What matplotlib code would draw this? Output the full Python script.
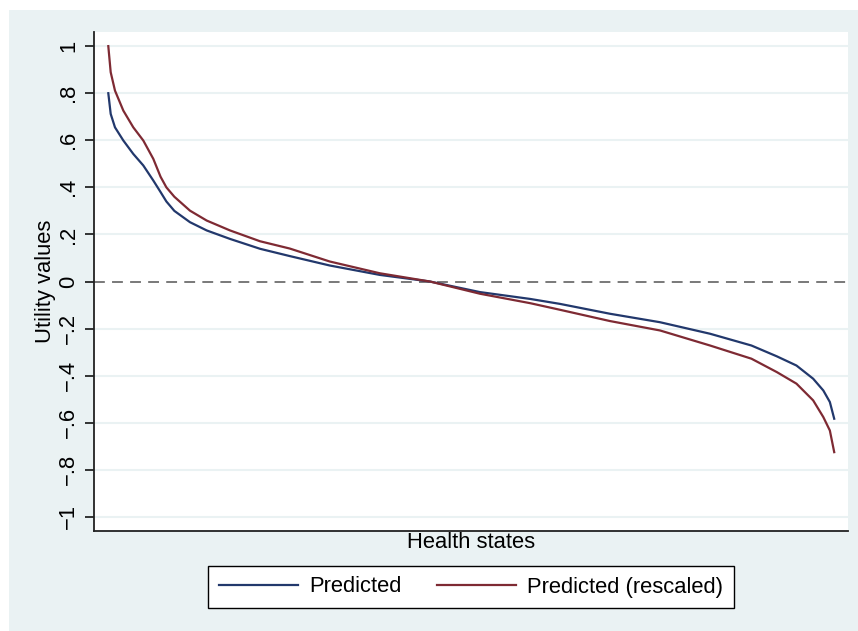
import numpy as np
import matplotlib
matplotlib.use("Agg")
import matplotlib.pyplot as plt
from matplotlib.patches import Rectangle
from matplotlib import rcParams

rcParams['font.family'] = ['Liberation Sans', 'DejaVu Sans']

# health states ranked by predicted utility (percent of states)
rank = [0, 0.33, 0.92, 2.07, 3.44, 4.82, 6.2, 7.2, 8.0, 9.1, 11.25, 13.55, 16.76,
        20.9, 25.0, 30.5, 37.4, 44.3, 51.2, 58.1, 62.2, 69.1, 76.0, 82.9, 88.6,
        92.1, 94.8, 97.1, 98.5, 99.4, 100]

# predicted utility values
predicted = [0.80, 0.712, 0.655, 0.599, 0.542, 0.493, 0.429, 0.38, 0.34, 0.30,
             0.252, 0.217, 0.181, 0.139, 0.108, 0.068, 0.028, 0.0, -0.045, -0.074,
             -0.095, -0.137, -0.173, -0.222, -0.272, -0.318, -0.357, -0.413,
             -0.463, -0.512, -0.583]

# rescaled predictions
rescaled = [1.0, 0.889, 0.811, 0.726, 0.655, 0.599, 0.521, 0.445, 0.40, 0.36,
            0.301, 0.259, 0.217, 0.171, 0.140, 0.085, 0.035, 0.0, -0.052, -0.092,
            -0.120, -0.168, -0.208, -0.272, -0.328, -0.385, -0.434, -0.505,
            -0.576, -0.633, -0.725]

yticks = [-1, -0.8, -0.6, -0.4, -0.2, 0, 0.2, 0.4, 0.6, 0.8, 1]
yticklabels = ['\u22121', '\u2212.8', '\u2212.6', '\u2212.4', '\u2212.2', '0',
               '.2', '.4', '.6', '.8', '1']

W, H = 858, 631
fs = 15.8
fig = plt.figure(figsize=(W / 100, H / 100), dpi=100, facecolor='white')

# Stata-like graph region
fig.patches.append(Rectangle((9 / W, 0), 1 - 9 / W, 1 - 10 / H,
                             transform=fig.transFigure, facecolor='#EAF2F3',
                             edgecolor='none', zorder=-10))

ax = fig.add_axes([94 / W, 1 - 531 / H, 754 / W, 499 / H])
ax.set_facecolor('white')

ax.plot(rank, predicted, color='#22386c', lw=1.6, label='Predicted', zorder=3)
ax.plot(rank, rescaled, color='#7e2a33', lw=1.6, label='Predicted (rescaled)', zorder=3)
ax.axhline(0, color='#6e6e6e', lw=1.3, ls=(0, (6, 4)), zorder=2)

ax.set_xlim(-1.97, 101.9)
ax.set_ylim(-1.06, 1.06)
ax.set_yticks(yticks)
ax.set_yticklabels(yticklabels, rotation=90, va='center', fontsize=fs)
ax.set_xticks([])
for y in yticks:
    if y != 0:
        ax.axhline(y, color='#EAF2F3', lw=1.5, zorder=1)

ax.tick_params(axis='y', direction='out', length=6.5, width=1.1, pad=4, colors='black')
for s in ['top', 'right']:
    ax.spines[s].set_visible(False)
for s in ['left', 'bottom']:
    ax.spines[s].set_color('#222222')
    ax.spines[s].set_linewidth(1.3)

fig.text(45 / W, 1 - 281 / H, 'Utility values', rotation=90, ha='center',
         va='center', fontsize=fs)
fig.text(471 / W, 1 - 532 / H, 'Health states', ha='center', va='top', fontsize=fs)

leg = fig.legend(loc='center', bbox_to_anchor=(471 / W, 1 - 587 / H), ncol=2,
                 fontsize=fs, frameon=True, fancybox=False, handlelength=3.6,
                 handletextpad=0.5, columnspacing=1.6, borderpad=0.5)
leg.get_frame().set_edgecolor('black')
leg.get_frame().set_linewidth(1.0)
leg.get_frame().set_facecolor('white')
leg.get_frame().set_alpha(1)

fig.savefig('out.png', dpi=100, facecolor=fig.get_facecolor())
